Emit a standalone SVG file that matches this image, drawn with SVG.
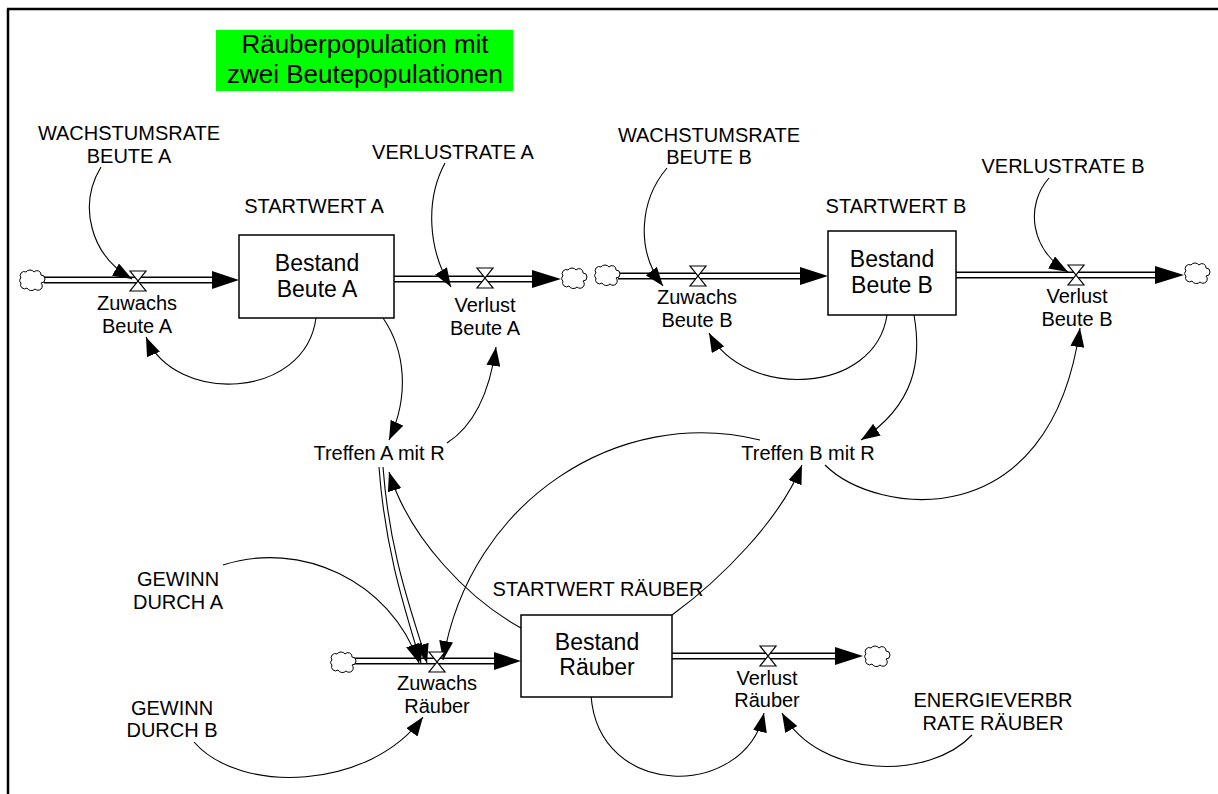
<svg xmlns="http://www.w3.org/2000/svg" width="1218" height="794" viewBox="0 0 1218 794">
<style>
text{font-family:"Liberation Sans",Arial,sans-serif;fill:#000;text-anchor:middle}
.lbl{font-size:20px}
.big{font-size:23px}
.title{font-size:26px}
.con{fill:none;stroke:#000;stroke-width:1.1;marker-end:url(#ah)}
.pipeo{fill:none;stroke:#000;stroke-width:7}
.pipei{fill:none;stroke:#fff;stroke-width:4}
.box{fill:#fff;stroke:#000;stroke-width:1.5}
.valve{fill:#fff;stroke:#000;stroke-width:1.2}
.cloud{fill:#fff;stroke:#000;stroke-width:1}
.head{fill:#000}
</style>
<defs>
<marker id="ah" markerUnits="userSpaceOnUse" markerWidth="20" markerHeight="14" refX="19" refY="7" orient="auto">
<path d="M0,0 L19,7 L0,14 Z" fill="#000"/>
</marker>
<path id="cl" class="cloud" d="M-10,-4 a4,4 0 0 1 5,-6 a5,5 0 0 1 8,0 a4,4 0 0 1 7,3 a4,4 0 0 1 0,8 a4,4 0 0 1 -6,6 a5,5 0 0 1 -8,-1 a4,4 0 0 1 -6,-5 a3,3 0 0 1 0,-5 z"/>
</defs>
<rect width="1218" height="794" fill="#fff"/>
<g id="frame" stroke="#000" stroke-width="2.5" fill="none">
<path d="M7,9 H1218 M8,9 V794"/>
</g>
<g id="title">
<rect x="216" y="30" width="297" height="61" fill="#00ff00"/>
<text class="title" x="365" y="53">Räuberpopulation mit</text>
<text class="title" x="365" y="83">zwei Beutepopulationen</text>
</g>
<g id="flows">
<path class="pipeo" d="M44,280 H215 M394,279 H535 M618,276 H803 M956,275 H1158 M354,661 H496 M672,656 H838"/>
<path class="pipei" d="M44,280 H215 M394,279 H535 M618,276 H803 M956,275 H1158 M354,661 H496 M672,656 H838"/>
<path class="head" d="M212,271 L239,280 L212,289 Z M532,270 L561,279 L532,288 Z M800,267 L828,276 L800,285 Z M1155,266 L1184,275 L1155,284 Z M494,652 L521,661 L494,670 Z M835,647 L863,656 L835,665 Z"/>
</g>
<g id="clouds">
<use href="#cl" x="31" y="282"/>
<use href="#cl" x="573" y="280"/>
<use href="#cl" x="606" y="277"/>
<use href="#cl" x="1196" y="275"/>
<use href="#cl" x="342" y="664"/>
<use href="#cl" x="876" y="658"/>
</g>
<g id="connectors">
<path class="con" d="M101,167 C78,205 90,255 132,279"/>
<path class="con" d="M445,163 C425,200 428,250 451,287"/>
<path class="con" d="M316,318 C305,400 175,405 146,337"/>
<path class="con" d="M383,318 C405,350 410,395 389,440"/>
<path class="con" d="M447,443 C475,425 490,390 496,347"/>
<path class="con" d="M667,168 C640,200 635,250 663,286"/>
<path class="con" d="M1049,178 C1025,205 1030,250 1068,272"/>
<path class="con" d="M887,315 C875,395 745,400 709,333"/>
<path class="con" d="M914,315 C922,360 915,405 861,440"/>
<path class="con" d="M825,465 C875,515 1050,540 1080,328"/>
<path class="con" d="M760,440 C620,405 470,500 443,660"/>
<path class="con" d="M521,628 C470,600 410,540 389,472"/>
<path class="con" d="M379,467 C385,550 405,610 421,663"/>
<path class="con" d="M383,467 C390,560 415,620 427,663"/>
<path class="con" d="M223,565 C300,540 390,580 419,663"/>
<path class="con" d="M194,742 C240,795 370,790 423,717"/>
<path class="con" d="M672,615 C720,580 780,520 802,465"/>
<path class="con" d="M591,695 C598,800 745,800 764,713"/>
<path class="con" d="M972,735 C930,780 820,780 782,713"/>
</g>
<g id="stockA">
<rect class="box" x="239" y="235" width="155" height="83"/>
<text class="big" x="317" y="271">Bestand</text>
<text class="big" x="317" y="297">Beute A</text>
</g>
<g id="stockB">
<rect class="box" x="828" y="231" width="128" height="84"/>
<text class="big" x="892" y="267">Bestand</text>
<text class="big" x="892" y="293">Beute B</text>
</g>
<g id="stockR">
<rect class="box" x="521" y="615" width="151" height="82"/>
<text class="big" x="597" y="650">Bestand</text>
<text class="big" x="597" y="675">Räuber</text>
</g>
<g id="flowZuwachsA">
<path class="valve" d="M130,271 H146 L130,291 H146 Z"/>
<text class="lbl" x="137" y="310">Zuwachs</text>
<text class="lbl" x="137" y="333">Beute A</text>
</g>
<g id="flowVerlustA">
<path class="valve" d="M477,268 H493 L477,288 H493 Z"/>
<text class="lbl" x="485" y="312">Verlust</text>
<text class="lbl" x="485" y="335">Beute A</text>
</g>
<g id="flowZuwachsB">
<path class="valve" d="M690,266 H706 L690,286 H706 Z"/>
<text class="lbl" x="697" y="304">Zuwachs</text>
<text class="lbl" x="697" y="327">Beute B</text>
</g>
<g id="flowVerlustB">
<path class="valve" d="M1068,265 H1084 L1068,285 H1084 Z"/>
<text class="lbl" x="1077" y="303">Verlust</text>
<text class="lbl" x="1077" y="326">Beute B</text>
</g>
<g id="flowZuwachsR">
<path class="valve" d="M429,652 H445 L429,672 H445 Z"/>
<text class="lbl" x="437" y="690">Zuwachs</text>
<text class="lbl" x="437" y="713">Räuber</text>
</g>
<g id="flowVerlustR">
<path class="valve" d="M760,646 H776 L760,666 H776 Z"/>
<text class="lbl" x="767" y="685">Verlust</text>
<text class="lbl" x="767" y="707">Räuber</text>
</g>
<g id="wachstumA"><text class="lbl" x="129" y="140">WACHSTUMSRATE</text><text class="lbl" x="129" y="163">BEUTE A</text></g>
<g id="verlustrateA"><text class="lbl" x="453" y="159">VERLUSTRATE A</text></g>
<g id="startA"><text class="lbl" x="314" y="213">STARTWERT A</text></g>
<g id="wachstumB"><text class="lbl" x="709" y="142">WACHSTUMSRATE</text><text class="lbl" x="709" y="164">BEUTE B</text></g>
<g id="startB"><text class="lbl" x="896" y="213">STARTWERT B</text></g>
<g id="verlustrateB"><text class="lbl" x="1063" y="173">VERLUSTRATE B</text></g>
<g id="treffenA"><text class="lbl" x="379" y="460">Treffen A mit R</text></g>
<g id="treffenB"><text class="lbl" x="808" y="460">Treffen B mit R</text></g>
<g id="gewinnA"><text class="lbl" x="178" y="586">GEWINN</text><text class="lbl" x="178" y="609">DURCH A</text></g>
<g id="gewinnB"><text class="lbl" x="172" y="715">GEWINN</text><text class="lbl" x="172" y="737">DURCH B</text></g>
<g id="startR"><text class="lbl" x="598" y="596">STARTWERT RÄUBER</text></g>
<g id="energie"><text class="lbl" x="993" y="707">ENERGIEVERBR</text><text class="lbl" x="993" y="730">RATE RÄUBER</text></g>
</svg>
